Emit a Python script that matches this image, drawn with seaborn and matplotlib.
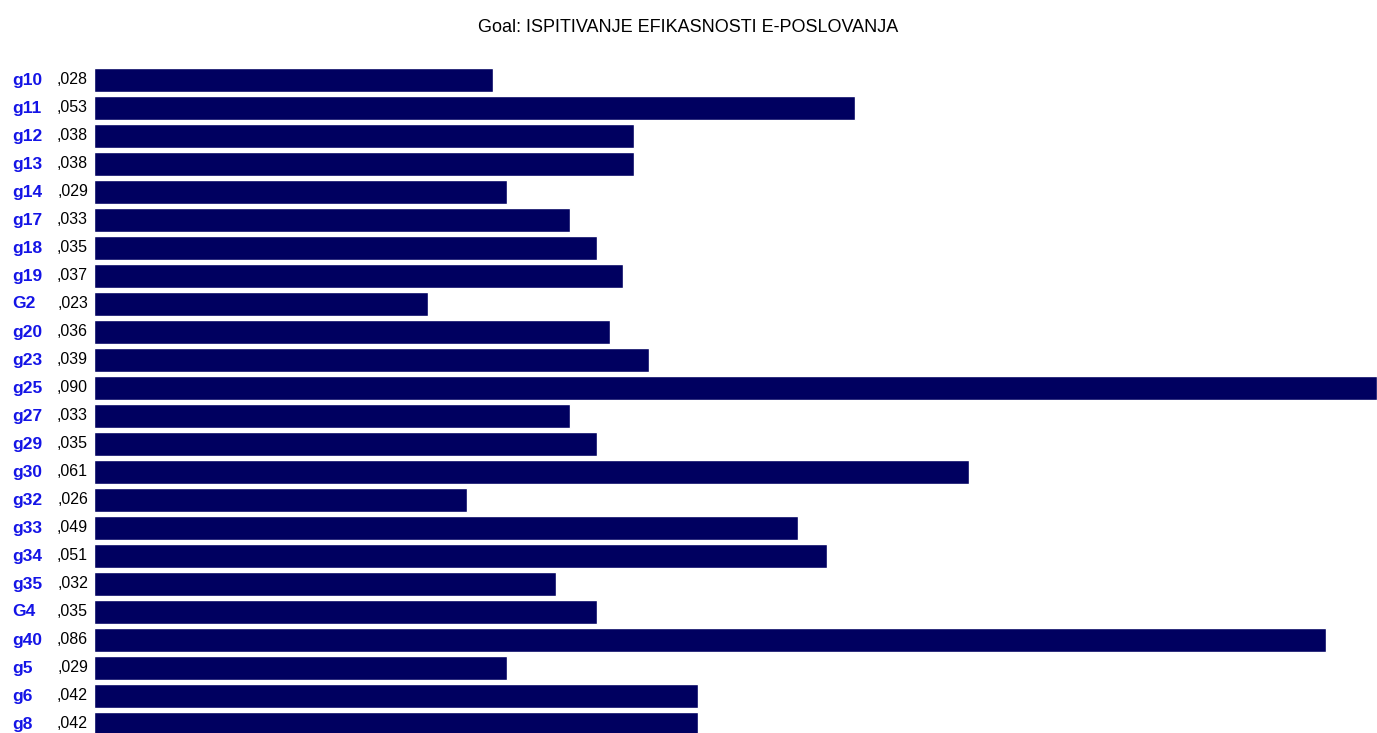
import numpy as np
import pandas as pd
import matplotlib
matplotlib.use("Agg")
import matplotlib.pyplot as plt
import matplotlib.transforms as mtransforms
import seaborn as sns

# data
names = ["g10", "g11", "g12", "g13", "g14", "g17", "g18", "g19", "G2", "g20",
         "g23", "g25", "g27", "g29", "g30", "g32", "g33", "g34", "g35", "G4",
         "g40", "g5", "g6", "g8"]
weights = [0.0280, 0.0534, 0.0379, 0.0379, 0.0290, 0.0334, 0.0353, 0.0371, 0.0234, 0.0362,
           0.0389, 0.0900, 0.0334, 0.0353, 0.0614, 0.0262, 0.0494, 0.0514, 0.0324, 0.0353,
           0.0864, 0.0290, 0.0424, 0.0424]
title = "Goal: ISPITIVANJE EFIKASNOSTI E-POSLOVANJA"

df = pd.DataFrame({"name": names, "weight": weights})

sns.set_style("white")
plt.rcParams['font.family'] = ['Liberation Sans', 'DejaVu Sans']

W, H = 1377, 733
fig = plt.figure(figsize=(W / 100, H / 100), dpi=100)
ax = fig.add_axes([94 / W, 0, 1 - 94 / W, 1])

sns.barplot(data=df, y="name", x="weight", orient="h", color="#000060",
            saturation=1, width=0.86, ax=ax)

# rows are 28 px apart, first row centre at 80 px from the top
pitch = 28
ax.set_ylim((H - 80) / pitch, -80 / pitch)
ax.set_xlim(0, 0.090)
ax.axis("off")

trans = mtransforms.blended_transform_factory(fig.transFigure, ax.transData)
for i, (n, w) in enumerate(zip(names, weights)):
    ax.text(12 / W, i, n, transform=trans, ha="left", va="center",
            color="#1414e6", fontsize=12.5, fontweight="bold", clip_on=False)
    lab = f"{w:.3f}"[1:].replace(".", ",")
    ax.text(88 / W, i, lab, transform=trans, ha="right", va="center",
            color="black", fontsize=11.5, clip_on=False)

fig.text(0.5, 1 - 27 / H, title, ha="center", va="center", fontsize=13,
         color="black")

fig.savefig("out.png", dpi=100)
